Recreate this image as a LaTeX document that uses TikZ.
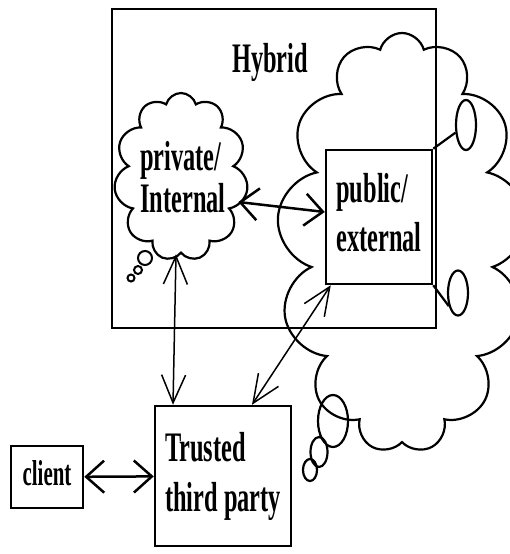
\documentclass[tikz,border=0pt]{standalone}
\usepackage{fontspec}
\setmainfont{Liberation Serif}
\usetikzlibrary{arrows.meta, positioning, shapes.geometric, shapes.symbols}
% tall narrow bold labels: size, line skip, text
\newcommand{\tall}[3]{\scalebox{0.58}[1]{\bfseries\fontsize{#1}{#2}\selectfont\begin{tabular}{@{}l@{}}#3\end{tabular}}}

\begin{document}
\begin{tikzpicture}[
    x=1pt, y=-1pt,
    box/.style={draw, line width=2.5pt, inner sep=0pt},
    puff/.style={cloud, draw, line width=2.2pt, cloud ignores aspect, inner sep=0pt},
    ring/.style={ellipse, draw, line width=2.2pt, inner sep=0pt},
    arr/.style={{Straight Barb[length=18pt,width=32pt]}-{Straight Barb[length=18pt,width=32pt]}, line width=2.5pt},
    thinarr/.style={{Straight Barb[length=28pt,width=24pt]}-{Straight Barb[length=28pt,width=24pt]}, line width=1.5pt}
  ]
    \useasboundingbox (0,0) rectangle (509,554);
    \node[box, minimum width=324pt, minimum height=319pt] (hyb) at (274,168.5) {};
    \node (hybtxt) at (270,63) {\tall{42}{46}{Hybrid}};
    \node[puff, cloud puffs=11, minimum width=134pt, minimum height=168pt] (priv) at (181,177) {};
    \node (privtxt) at (183,183) {\tall{42}{42}{private/\\Internal}};
    \node[puff, cloud puffs=13, minimum width=250pt, minimum height=420pt] (pubcloud) at (402,243) {};
    \node[box, minimum width=106pt, minimum height=134pt] (pub) at (379,217) {\tall{42}{49}{public/\\external}};
    \node[ring, minimum width=20pt, minimum height=50pt] (ring1) at (466,125) {};
    \node[ring, minimum width=20pt, minimum height=45pt] (ring2) at (458,293) {};
    \node[box, minimum width=136pt, minimum height=140pt] (ttp) at (223,476) {\tall{42}{50}{Trusted\\third party}};
    \node[box, minimum width=72pt, minimum height=62pt] (cli) at (47,477) {\tall{36}{40}{client}};
    % thought bubbles
    \draw[line width=2pt] (145,258) circle (7pt) (138,270) circle (4pt) (131,278) circle (3.5pt);
    \draw[line width=2.2pt] (333,421) ellipse [x radius=15pt, y radius=26pt]
      (319,452) ellipse [x radius=8.5pt, y radius=15pt]
      (310,470) ellipse [x radius=7pt, y radius=11pt];
    % links
    \draw[line width=2.2pt] (pub.north east) -- (ring1);
    \draw[line width=2.2pt] (pub.south east) -- (ring2.235);
    \draw[arr] ([shift={(-8,25)}]priv.east) -- ([shift={(0,-5)}]pub.west);
    \draw[thinarr] ([shift={(-5,0)}]priv.south) -- ([shift={(-50,0)}]ttp.north);
    \draw[thinarr] ([shift={(6,0)}]pub.south west) -- ([shift={(29,0)}]ttp.north);
    \draw[arr] (cli) -- (ttp);
  \end{tikzpicture}
\end{document}
